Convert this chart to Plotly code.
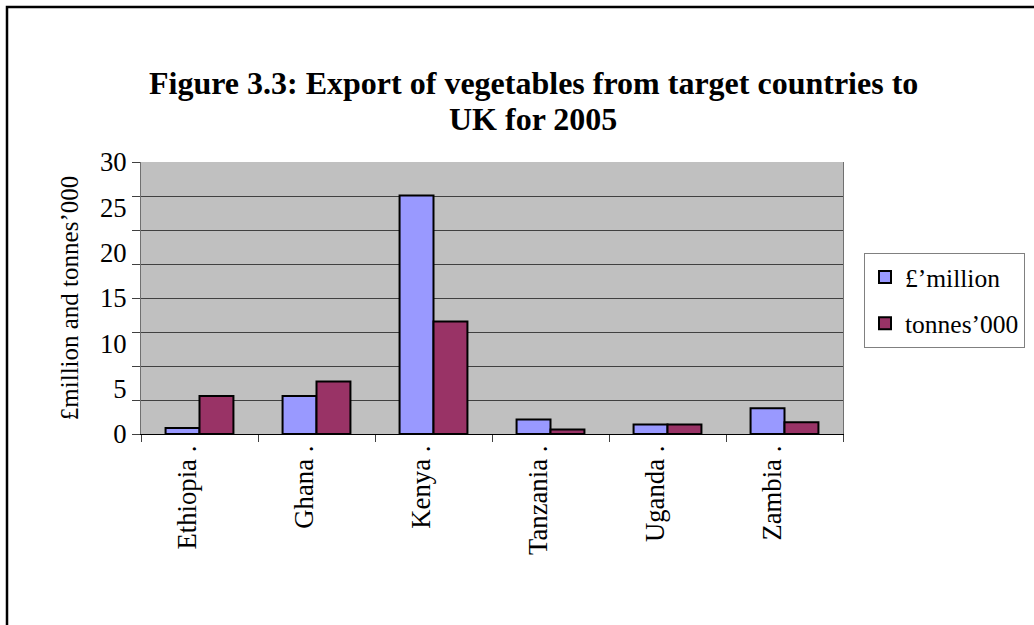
import plotly.graph_objects as go

countries = ["Ethiopia .", "Ghana .", "Kenya .", "Tanzania .", "Uganda .", "Zambia ."]
million_gbp = [0.65, 4.2, 26.3, 1.6, 1.05, 2.85]
tonnes_000 = [4.2, 5.8, 12.4, 0.5, 1.05, 1.3]
y_tick_vals = [0, 5, 10, 15, 20, 25, 30]
grid_step = 3.75
title_lines = ["Figure 3.3: Export of vegetables from target countries to", "UK for 2005"]

FONT = "Liberation Serif"
L, R, T, B = 141, 191, 162, 191
W, H = 1034, 625
pw, ph = W - L - R, H - T - B

fig = go.Figure()
fig.add_trace(go.Bar(x=countries, y=million_gbp, name="£’million",
                     marker=dict(color="#9999FF", line=dict(color="black", width=2)),
                     legendgroup="a"))
fig.add_trace(go.Bar(x=countries, y=tonnes_000, name="tonnes’000",
                     marker=dict(color="#993366", line=dict(color="black", width=2)),
                     legendgroup="b"))
# invisible helper trace for the gridline axis
fig.add_trace(go.Scatter(x=[countries[0]], y=[0], yaxis="y2", mode="markers",
                         marker=dict(opacity=0), showlegend=False, hoverinfo="skip"))

fig.update_layout(
    width=W, height=H,
    margin=dict(l=L, r=R, t=T, b=B, autoexpand=False),
    paper_bgcolor="white",
    plot_bgcolor="#C0C0C0",
    font=dict(family=FONT, color="black", size=26),
    barmode="group", bargap=0.42, bargroupgap=0,
    showlegend=True,
    legend=dict(x=(864 - L) / pw, y=(T + ph - 253) / ph, xanchor="left", yanchor="top",
                bgcolor="white", bordercolor="#808080", borderwidth=1,
                font=dict(family=FONT, size=25.5), tracegroupgap=10,
                itemclick=False, itemdoubleclick=False),
    xaxis=dict(tickangle=-90, ticks="outside", ticklen=7, tickcolor="#404040",
               tickson="boundaries", showline=True, linecolor="black", linewidth=1,
               showgrid=False, tickfont=dict(family=FONT, size=26.7),
               ticklabelshift=-12, range=[-0.5, 5.5]),
    yaxis=dict(range=[0, 30], tickvals=y_tick_vals, ticks="outside", ticklen=8,
               tickcolor="rgba(0,0,0,0)", showgrid=False, zeroline=False,
               showline=True, linecolor="#707070", linewidth=1, mirror=True,
               tickfont=dict(family=FONT, size=26.7),
               title=dict(text="£million and tonnes’000", font=dict(family=FONT, size=25),
                          standoff=14)),
    yaxis2=dict(range=[0, 30], overlaying="y", side="left", tick0=0, dtick=grid_step,
                showticklabels=False, ticks="outside", ticklen=8, tickcolor="#404040",
                showgrid=True, gridcolor="#404040", gridwidth=1, zeroline=False,
                showline=False),
    hovermode=False,
)

for line, ypx in zip(title_lines, [83, 119]):
    fig.add_annotation(
        text="<b>" + line + "</b>",
        xref="paper", yref="paper", x=(533 - L) / pw, y=(T + ph - ypx) / ph,
        xanchor="center", yanchor="middle", showarrow=False, align="center",
        font=dict(family=FONT, size=32, color="black"),
    )

fig.add_shape(type="rect", xref="paper", yref="paper",
              x0=(7 - L) / pw, x1=3, y0=-3, y1=(T + ph - 7) / ph,
              line=dict(color="black", width=2.5), fillcolor="rgba(0,0,0,0)", layer="above")

fig.write_html("out.html")
